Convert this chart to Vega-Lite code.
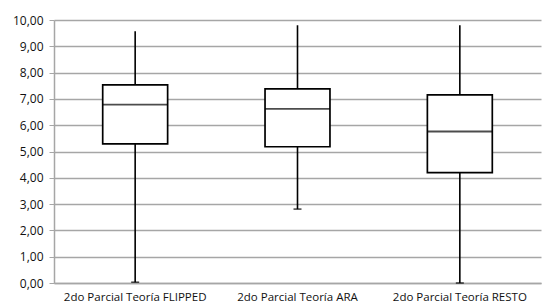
{
  "$schema": "https://vega.github.io/schema/vega-lite/v6.json",
  "width": 487,
  "height": 263,
  "autosize": {"type": "none"},
  "padding": {"left": 54, "top": 20, "right": 4, "bottom": 24},
  "background": "white",
  "config": {
    "view": {"stroke": null},
    "font": "Open Sans"
  },
  "data": {
    "values": [
      {"grupo": "2do Parcial Teoría FLIPPED", "min": 0.03, "q1": 5.29, "median": 6.78, "q3": 7.53, "max": 9.57},
      {"grupo": "2do Parcial Teoría ARA", "min": 2.81, "q1": 5.18, "median": 6.62, "q3": 7.38, "max": 9.8},
      {"grupo": "2do Parcial Teoría RESTO", "min": 0.0, "q1": 4.2, "median": 5.76, "q3": 7.15, "max": 9.8}
    ]
  },
  "encoding": {
    "x": {
      "field": "grupo",
      "type": "nominal",
      "sort": null,
      "scale": {"paddingInner": 0, "paddingOuter": 0},
      "axis": {
        "title": null,
        "labelAngle": 0,
        "labelFontSize": 11.5,
        "labelColor": "#111",
        "labelPadding": 8,
        "ticks": false,
        "domainColor": "#a6a6a6",
        "domainWidth": 1.5,
        "grid": false
      }
    },
    "y": {
      "field": "min",
      "type": "quantitative",
      "scale": {"domain": [0, 10], "nice": false},
      "axis": {
        "title": null,
        "tickCount": 10,
        "tickMinStep": 1,
        "labelExpr": "replace(format(datum.value, '.2f'), '.', ',')",
        "labelOverlap": false,
        "labelFlush": false,
        "labelFontSize": 12,
        "labelColor": "#111",
        "labelPadding": 6,
        "tickSize": 5,
        "tickColor": "#a6a6a6",
        "domainColor": "#a6a6a6",
        "domainWidth": 1.5,
        "gridColor": "#a6a6a6",
        "gridWidth": 1.3
      }
    }
  },
  "layer": [
    {
      "mark": {"type": "rule", "color": "black", "strokeWidth": 1.6},
      "encoding": {
        "y2": {"field": "max"}
      }
    },
    {
      "mark": {"type": "tick", "color": "black", "thickness": 1.6, "size": 8},
      "encoding": {}
    },
    {
      "mark": {"type": "bar", "fill": "white", "stroke": "black", "strokeWidth": 1.7, "width": {"band": 0.4}},
      "encoding": {
        "y": {"field": "q1", "type": "quantitative"},
        "y2": {"field": "q3"}
      }
    },
    {
      "mark": {"type": "tick", "color": "black", "thickness": 1.8, "size": 65},
      "encoding": {
        "y": {"field": "median", "type": "quantitative"}
      }
    }
  ]
}
